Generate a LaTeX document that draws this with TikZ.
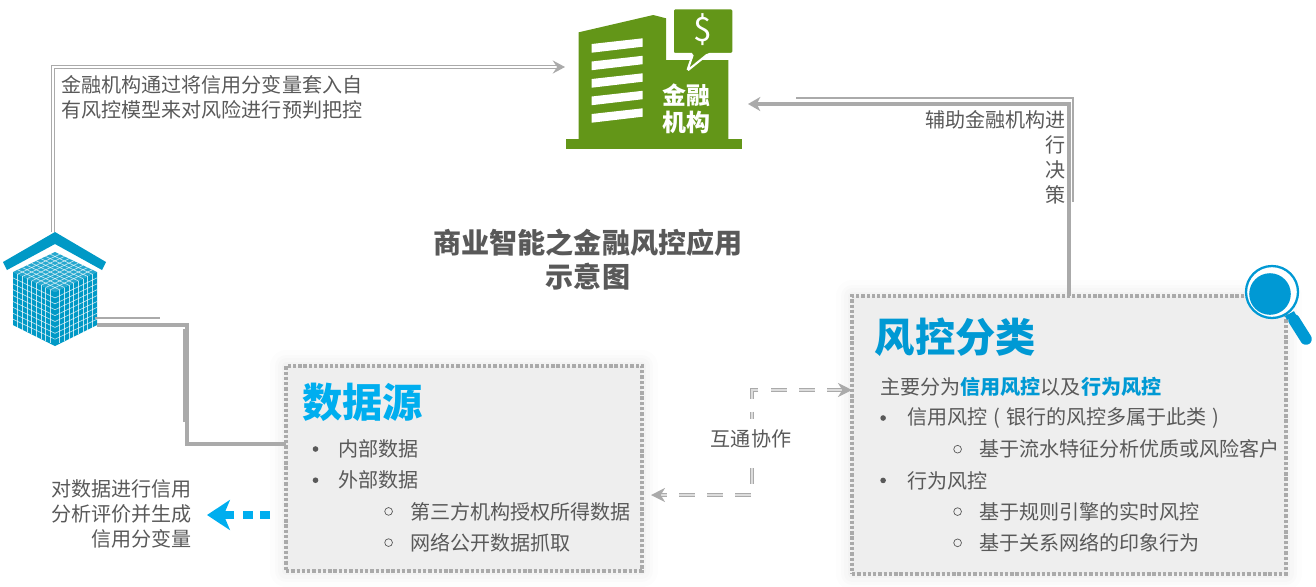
\documentclass[tikz,border=0pt]{standalone}
\usepackage{fontspec}
\setmainfont{Noto Sans CJK SC}
\usepackage{xcolor}
\usepackage{tikz}
\usetikzlibrary{positioning,arrows.meta}
\definecolor{fcink}{RGB}{89,89,89}
\definecolor{fcrule}{RGB}{170,170,170}
\definecolor{fcpanel}{RGB}{238,238,238}
\definecolor{fcblue}{RGB}{0,153,212}
\definecolor{fcsky}{RGB}{0,174,239}
\definecolor{fccube}{RGB}{0,153,198}
\definecolor{fcgreen}{RGB}{99,150,24}
\newlength{\rowgap}
\setlength{\rowgap}{17.76pt}
\newcommand{\bodyfont}{\fontsize{11.42}{14.2}\selectfont}
\tikzset{
  panel/.style={draw=fcrule, fill=fcpanel, line width=1.8pt, outer sep=0pt,
                dash pattern=on 1.9pt off 1.1pt,
                preaction={draw=black, draw opacity=.008, solid, line join=round, line width=18pt},
                preaction={draw=black, draw opacity=.01, solid, line join=round, line width=13pt},
                preaction={draw=black, draw opacity=.012, solid, line join=round, line width=9pt},
                preaction={draw=black, draw opacity=.015, solid, line join=round, line width=5pt}},
  head/.style={font=\fontsize{22.9}{24}\selectfont\bfseries, anchor=west, inner sep=0pt},
  rowtxt/.style={font=\bodyfont, color=fcink, anchor=west, inner sep=0pt},
  note/.style={font=\bodyfont, color=fcink, inner sep=0pt},
  dotb/.style={circle, fill=fcink, inner sep=0pt, minimum size=3.2pt},
  ringb/.style={circle, draw=fcink, line width=.4pt, inner sep=0pt, minimum size=4.4pt},
  twin/.style={draw=fcrule, double=white, line width=.6pt, double distance=1.1pt},
  twinflow/.style={twin, -{Stealth[length=7pt,width=7.5pt,inset=2.5pt]}},
  swap/.style={draw=fcrule, double=fcrule!40, line width=.8pt, double distance=.8pt,
               {Stealth[length=8pt,width=8pt,inset=2.5pt]}-{Stealth[length=8pt,width=8pt,inset=2.5pt]},
               dash pattern=on 9pt off 7pt},
  heavy/.style={draw=fcrule, line width=1.9pt},
  heavyflow/.style={heavy, -{Stealth[length=7pt,width=8pt,inset=2pt]}},
  hair/.style={draw=fcrule, line width=.6pt},
  spill/.style={draw=fcsky, line width=5.1pt, dash pattern=on 5.7pt off 4pt on 5.7pt off 5.2pt on 40pt off 1pt,
                -{Stealth[length=13pt,width=17pt,inset=3.5pt]}},
  cubeline/.style={draw=white, line width=.35pt, opacity=.75},
}
\begin{document}
\begin{tikzpicture}[x=.02cm,y=-.02cm]
\useasboundingbox (0,0) rectangle (1316,586);
\coordinate (bankwest) at (565,67);
\coordinate (bankeast) at (748,104);
\node[minimum size=.8cm, inner sep=0pt] (cube) at (54,299) {};
\coordinate (cubetop) at (53,232);
\coordinate (cubeside) at (97,325);
\node[panel, minimum width=7.12cm, minimum height=4.1cm] (srcbox) at (464,468.5) {};
\node[panel, minimum width=8.68cm, minimum height=5.56cm] (riskbox) at (1069,435) {};

\fill[fcgreen] (566,139) rectangle (742,149);
\fill[fcgreen] (578.7,32.3) -- (653.3,15) -- (666,18.3) -- (666,60) -- (728.3,60)
  -- (728.3,139) -- (578.7,139) -- cycle;
\foreach \yy in {0,...,4}
  \fill[white] (591.7,{44+\yy*17.5}) -- (642.7,{38.3+\yy*17.5})
    -- (642.7,{46.7+\yy*17.5}) -- (591.7,{52.7+\yy*17.5}) -- cycle;
\draw[white, line width=1.2pt, fill=fcgreen, rounded corners=1pt] (672.7,8.3) -- (733.3,8.3) -- (733.3,54)
  -- (708,54) -- (687.3,70.7) -- (693,54) -- (672.7,54) -- cycle;
\node[font=\fontsize{19}{20}\selectfont, color=white, inner sep=0pt] (dollar) at (703,30) {\$};
\node[font=\fontsize{13.6}{15.6}\selectfont\bfseries, color=white, align=center, inner sep=0pt] (banklbl) at (686.7,109) {金融\\机构};

\fill[fccube] (3,262) -- (55,232) -- (106,262) -- (102,270) -- (55,244) -- (7,270) -- cycle;
\fill[fccube!85!white] (55,252) -- (97,272) -- (55,292) -- (13,272) -- cycle;
\fill[fccube] (13,272) -- (55,292) -- (55,346) -- (13,325) -- cycle;
\fill[fccube] (97,272) -- (55,292) -- (55,346) -- (97,325) -- cycle;
\foreach \tt in {1,...,8} {
  \draw[cubeline] ({13+\tt*4.67},{272+\tt*2.22}) -- ++(0,53.5);
  \draw[cubeline] ({97-\tt*4.67},{272+\tt*2.22}) -- ++(0,53.5);
  \draw[cubeline] (13,{272+\tt*5.9}) -- (55,{292+\tt*5.9});
  \draw[cubeline] (97,{272+\tt*5.9}) -- (55,{292+\tt*5.9});
  \draw[cubeline] ({13+\tt*4.67},{272-\tt*2.22}) -- ++(42,20);
  \draw[cubeline] ({97-\tt*4.67},{272-\tt*2.22}) -- ++(-42,20);
}

\draw[twinflow] (cubetop) |- (bankwest);
\draw[heavyflow] (riskbox.north) |- (bankeast);
\coordinate (hairtop) at (796,98);
\coordinate (hairend) at (1073,202);
\draw[hair] (hairtop) -| (hairend);
\draw[heavy] (cubeside) -| (187,444) -- (srcbox.west |- 0,444);
\draw[hair] (95,318) -- (160,318);
\draw[hair] (184,329) -- (184,422);
\coordinate (swapleft) at (651,495);
\coordinate (swapright) at (852,390);
\draw[swap] (swapright) -| (752,495) -- (swapleft);
\node[note, fill=white, inner xsep=3pt, inner ysep=6pt] (swaplbl) at (751,439) {互通协作};
\coordinate (spillfrom) at (270,515);
\coordinate (spillto) at (207,515);
\draw[spill] (spillfrom) -- (spillto);

\node[note, anchor=west, align=left] (bankleft) at (61,97.5) {金融机构通过将信用分变量套入自\\有风控模型来对风险进行预判把控};
\node[note, anchor=east, align=right] (bankright) at (1066,157.5) {辅助金融机构进\\行\\决\\策};
\node[font=\fontsize{16}{19.3}\selectfont\bfseries, color=fcink, align=center, inner sep=0pt] (title) at (588,260) {商业智能之金融风控应用\\示意图};
\node[note, anchor=east, align=right] (srcnote) at (192,514) {对数据进行信用\\分析评价并生成\\信用分变量};

\node[head, color=fcsky] (srchead) at (302,402) {数据源};
\node[rowtxt] (src1) at (338,449) {内部数据};
\node[rowtxt, below=\rowgap of src1.west, anchor=west] (src2) {外部数据};
\node[rowtxt, below right=\rowgap and 40.8pt of src2.west, anchor=west] (src3) {第三方机构授权所得数据};
\node[rowtxt, below=\rowgap of src3.west, anchor=west] (src4) {网络公开数据抓取};
\node[dotb, left=12.8pt of src1.west, anchor=center] (srcdot1) {};
\node[dotb, left=12.8pt of src2.west, anchor=center] (srcdot2) {};
\node[ringb, left=12pt of src3.west, anchor=center] (srcring1) {};
\node[ringb, left=12pt of src4.west, anchor=center] (srcring2) {};

\node[head, color=fcblue] (riskhead) at (874.5,337) {风控分类};
\node[rowtxt] (risk0) at (880,387) {主要分为{\bfseries\color{fcblue}信用风控}以及{\bfseries\color{fcblue}行为风控}};
\node[rowtxt] (risk1) at (907,418) {信用风控\hspace{3.4pt}(\hspace{3.4pt}银行的风控多属于此类\hspace{3.4pt})};
\node[rowtxt, below right=\rowgap and 40.8pt of risk1.west, anchor=west] (risk2) {基于流水特征分析优质或风险客户};
\node[rowtxt, below=2\rowgap of risk1.west, anchor=west] (risk3) {行为风控};
\node[rowtxt, below=2\rowgap of risk2.west, anchor=west] (risk4) {基于规则引擎的实时风控};
\node[rowtxt, below=\rowgap of risk4.west, anchor=west] (risk5) {基于关系网络的印象行为};
\node[dotb, left=13.6pt of risk1.west, anchor=center] (riskdot1) {};
\node[dotb, left=13.6pt of risk3.west, anchor=center] (riskdot2) {};
\node[ringb, left=12pt of risk2.west, anchor=center] (riskring1) {};
\node[ringb, left=12pt of risk4.west, anchor=center] (riskring2) {};
\node[ringb, left=12pt of risk5.west, anchor=center] (riskring3) {};

\draw[fcblue, line width=1.3pt, fill=white] (1272,292) circle (26);
\fill[fcblue] (1270,294) circle (20.8);
\draw[fcblue, line width=2.4pt] (1286,318) -- (1295,313);
\draw[fcblue, line width=6.6pt, line cap=round] (1294,320) -- (1306,339);
\end{tikzpicture}
\end{document}
